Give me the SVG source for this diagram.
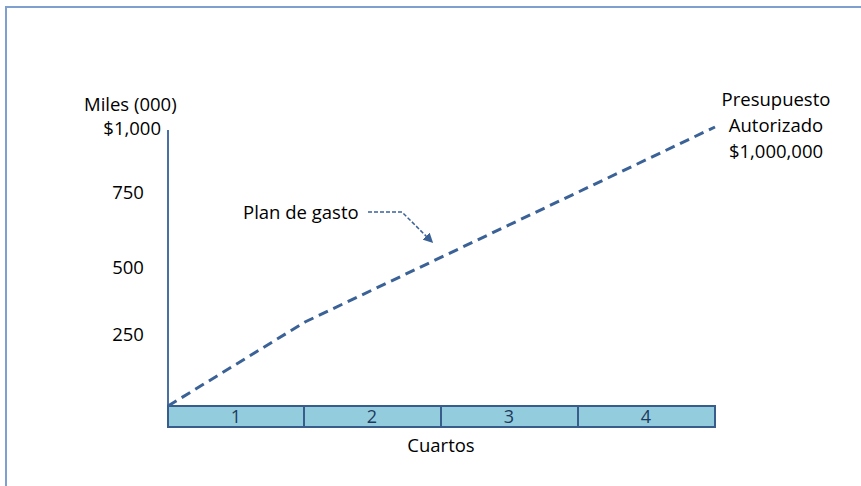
<svg xmlns="http://www.w3.org/2000/svg" width="861" height="486" viewBox="0 0 861 486">
<style>
  text { font-family: "Open Sans", "Liberation Sans", sans-serif; font-size: 18.5px; fill: #000; }
  .num { fill: #1F3A5F; text-anchor: middle; font-size: 18px; }
  .cell { fill: #93CDDD; stroke: #385D8A; stroke-width: 2; }
</style>
<defs>
  <marker id="ah" markerWidth="10" markerHeight="10" refX="7" refY="5" orient="auto" markerUnits="userSpaceOnUse">
    <path d="M0,0 L10,5 L0,10 z" fill="#3B6296"/>
  </marker>
</defs>
<rect x="0" y="0" width="861" height="486" fill="#fff"/>
<path d="M6,486 V7 H861" fill="none" stroke="#7F9FCF" stroke-width="2"/>
<g id="axis">
  <line x1="168" y1="130" x2="168" y2="406" stroke="#4A6FA5" stroke-width="2"/>
</g>
<g id="labels">
  <text x="84" y="111">Miles (000)</text>
  <text x="161" y="135" text-anchor="end">$1,000</text>
  <text x="128" y="199" text-anchor="middle">750</text>
  <text x="128" y="274" text-anchor="middle">500</text>
  <text x="128" y="341" text-anchor="middle">250</text>
  <text x="441" y="452" text-anchor="middle">Cuartos</text>
</g>
<g id="budget">
  <text x="776" y="106" text-anchor="middle">Presupuesto</text>
  <text x="776" y="132" text-anchor="middle">Autorizado</text>
  <text x="776" y="158" text-anchor="middle">$1,000,000</text>
</g>
<g id="quarters">
  <rect class="cell" x="168" y="406" width="136" height="21"/>
  <rect class="cell" x="304" y="406" width="137" height="21"/>
  <rect class="cell" x="441" y="406" width="137" height="21"/>
  <rect class="cell" x="578" y="406" width="137" height="21"/>
  <text class="num" x="236" y="423">1</text>
  <text class="num" x="372" y="423">2</text>
  <text class="num" x="509" y="423">3</text>
  <text class="num" x="646" y="423">4</text>
</g>
<g id="plan">
  <text x="243" y="219">Plan de gasto</text>
</g>
<g id="connectors">
  <polyline points="168,406 305,322 715,127" fill="none" stroke="#3B6296" stroke-width="3" stroke-dasharray="10,6"/>
  <polyline points="368,212 402,212 431,241" fill="none" stroke="#3B6296" stroke-width="1.5" stroke-dasharray="4,2" marker-end="url(#ah)"/>
</g>
</svg>
